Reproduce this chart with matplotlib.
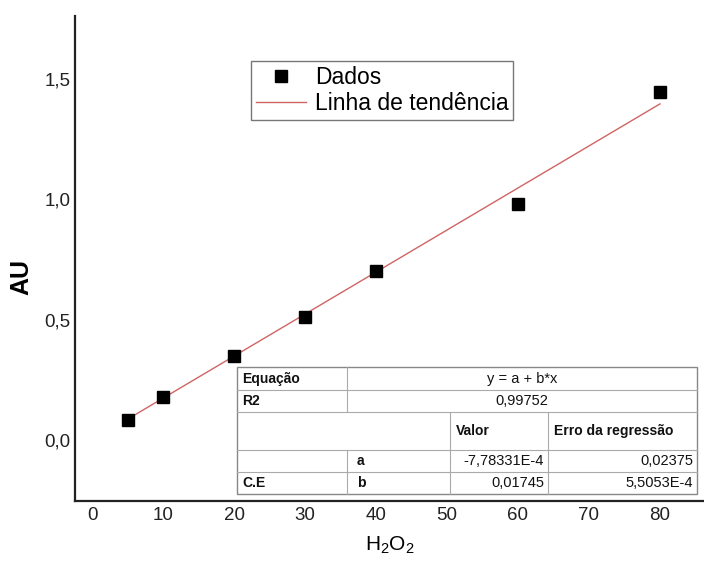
import numpy as np
import matplotlib
matplotlib.use("Agg")
import matplotlib.pyplot as plt
from matplotlib.lines import Line2D
from matplotlib.patches import Rectangle

plt.rcParams["font.family"] = ["Liberation Sans", "DejaVu Sans"]

# data
conc = [5, 10, 20, 30, 40, 60, 80]
absorb = [0.085, 0.18, 0.35, 0.51, 0.70, 0.98, 1.445]

# fitted line (values from the table)
fit_a = -7.78331e-4
fit_b = 0.01745

xticks = [0, 10, 20, 30, 40, 50, 60, 70, 80]
yticks = [0.0, 0.5, 1.0, 1.5]
ytick_labels = ["0,0", "0,5", "1,0", "1,5"]

# results table text
eq_row = ["Equação", "y = a + b*x"]
r2_row = ["R2", "0,99752"]
head_row = ["Valor", "Erro da regressão"]
par_names = ["a", "b"]
par_values = ["-7,78331E-4", "0,01745"]
par_errors = ["0,02375", "5,5053E-4"]
group_label = "C.E"

W, H = 704, 565


def fx(px):
    return px / W


def fy(py):
    return 1 - py / H


fig = plt.figure(figsize=(W / 100, H / 100), dpi=100)
ax = fig.add_axes([fx(75), fy(501), fx(704) - fx(75), fy(16) - fy(501)])

xs = np.array([conc[0], conc[-1]])
ax.plot(xs, fit_a + fit_b * xs, color="#d06464", lw=1.0, label="Linha de tendência", zorder=2)
ax.plot(conc, absorb, ls="none", marker="s", ms=8.2, color="black",
        label="Dados", zorder=3)

ax.set_xlim(-2.4, 86.2)
ax.set_ylim(-0.253, 1.76)
ax.set_xticks(xticks)
ax.set_yticks(yticks)
ax.set_yticklabels(ytick_labels)
ax.tick_params(length=0, labelsize=13.5, colors="#222222")
ax.tick_params(axis="y", pad=3)
ax.tick_params(axis="x", pad=4)
for s in ["top", "right"]:
    ax.spines[s].set_visible(False)
for s in ["left", "bottom"]:
    ax.spines[s].set_linewidth(1.6)
    ax.spines[s].set_color("#222222")

ax.set_ylabel("AU", fontsize=18, fontweight="bold")
ax.yaxis.set_label_coords(-0.066, 0.462)
ax.set_xlabel(r"$\mathregular{H_2O_2}$", fontsize=15, labelpad=8)

handles, labels = ax.get_legend_handles_labels()
leg = fig.legend(handles[::-1], labels[::-1], loc="upper left",
                 bbox_to_anchor=(fx(251), fy(61)), borderaxespad=0,
                 fontsize=16.5, fancybox=False, edgecolor="#777777",
                 framealpha=1, handlelength=2.2, handletextpad=0.4,
                 borderpad=0.2, labelspacing=0.15)
leg.get_frame().set_linewidth(1.0)

# results table drawn in pixel layout
tx0, tx1, tx2, tx3, tx4 = 237, 347, 450, 548, 697
ty = [367, 390, 412, 450, 472, 494]
gray = "#aaaaaa"

fig.add_artist(Rectangle((fx(tx0), fy(ty[-1])), fx(tx4) - fx(tx0), fy(ty[0]) - fy(ty[-1]),
                         transform=fig.transFigure, facecolor="white",
                         edgecolor="#888888", lw=1.0, zorder=5))


def hline(y, x0=tx0, x1=tx4):
    fig.add_artist(Line2D([fx(x0), fx(x1)], [fy(y), fy(y)], color=gray, lw=0.8, zorder=6))


def vline(x, y0, y1):
    fig.add_artist(Line2D([fx(x), fx(x)], [fy(y0), fy(y1)], color=gray, lw=0.8, zorder=6))


for y in ty[1:-1]:
    hline(y)
vline(tx1, ty[0], ty[2])
vline(tx1, ty[3], ty[5])
vline(tx2, ty[2], ty[5])
vline(tx3, ty[2], ty[5])


def cell(x, y0, y1, s, ha="left", bold=False):
    fig.text(fx(x), fy((y0 + y1) / 2), s, ha=ha, va="center",
             fontsize=10 if bold else 10.5,
             fontweight="bold" if bold else "normal", color="#111111", zorder=7)


cell(tx0 + 5, ty[0], ty[1], eq_row[0], bold=True)
cell((tx1 + tx4) / 2, ty[0], ty[1], eq_row[1], ha="center")
cell(tx0 + 5, ty[1], ty[2], r2_row[0], bold=True)
cell((tx1 + tx4) / 2, ty[1], ty[2], r2_row[1], ha="center")
cell(tx2 + 6, ty[2], ty[3], head_row[0], bold=True)
cell(tx3 + 6, ty[2], ty[3], head_row[1], bold=True)
for i in range(len(par_names)):
    r0, r1 = ty[3 + i], ty[4 + i]
    cell(tx1 + 10, r0, r1, par_names[i], bold=True)
    cell(tx3 - 4, r0, r1, par_values[i], ha="right")
    cell(tx4 - 4, r0, r1, par_errors[i], ha="right")
cell(tx0 + 5, ty[4], ty[5], group_label, bold=True)

fig.savefig("out.png", dpi=100)
